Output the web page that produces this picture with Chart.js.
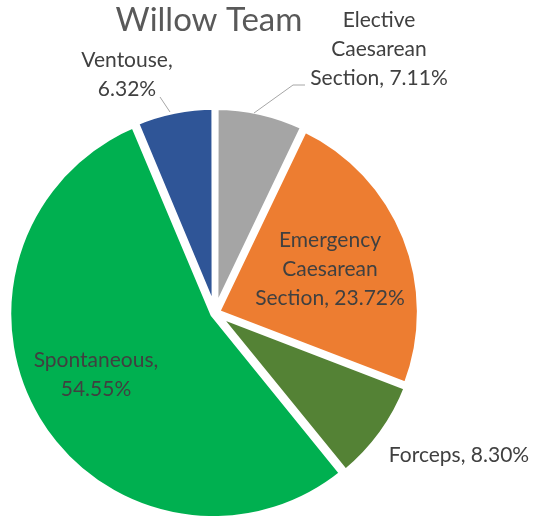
<!DOCTYPE html>
<html lang="en">
<head>
  <meta charset="UTF-8">
  <title>Willow Team</title>
  <script src="https://cdn.jsdelivr.net/npm/chart.js"></script>
  <style>
    body {
      margin: 0;
      padding: 0;
      background: #fff;
    }
    .chart-box {
      width: 535px;
      height: 516px;
    }
  </style>
</head>
<body>
  <div class="chart-box">
    <canvas id="willowChart" width="535" height="516"></canvas>
  </div>

  <script>
    // data
    const chartTitle = 'Willow Team';
    const categories = ['Elective Caesarean Section', 'Emergency Caesarean Section', 'Forceps', 'Spontaneous', 'Ventouse'];
    const percentages = [7.11, 23.72, 8.30, 54.55, 6.32];
    const sliceColors = ['#A5A5A5', '#ED7D31', '#548235', '#00B050', '#2F5597'];

    const labelFont = '21px Lato';
    const labelColor = '#404040';

    // where each data label sits (centre x, first line y) and how it wraps
    const labelPlaces = [
      { x: 379, y: 20, lines: ['Elective', 'Caesarean', 'Section, {v}'], leader: [[254, 113], [293, 85], [305, 85]] },
      { x: 330, y: 240, lines: ['Emergency', 'Caesarean', 'Section, {v}'] },
      { x: 459, y: 455, lines: ['Forceps, {v}'] },
      { x: 96, y: 360, lines: ['Spontaneous,', '{v}'] },
      { x: 127, y: 60, lines: ['Ventouse,', '{v}'], leader: [[160, 97], [170, 112]] }
    ];

    const labelsPlugin = {
      id: 'excelLabels',
      afterDraw(chart) {
        const c = chart.ctx;
        c.save();
        // title
        c.fillStyle = '#595959';
        c.font = '33px Lato';
        c.textAlign = 'center';
        c.textBaseline = 'middle';
        c.fillText(chartTitle, 209, 20);

        // leader lines
        c.strokeStyle = '#A6A6A6';
        c.lineWidth = 1;
        labelPlaces.forEach(function(p) {
          if (!p.leader) return;
          c.beginPath();
          c.moveTo(p.leader[0][0], p.leader[0][1]);
          for (let i = 1; i < p.leader.length; i++) {
            c.lineTo(p.leader[i][0], p.leader[i][1]);
          }
          c.stroke();
        });

        // data labels
        c.fillStyle = labelColor;
        c.font = labelFont;
        labelPlaces.forEach(function(p, i) {
          const v = percentages[i].toFixed(2) + '%';
          p.lines.forEach(function(line, j) {
            c.fillText(line.replace('{v}', v), p.x, p.y + j * 29);
          });
        });
        c.restore();
      }
    };

    const ctx = document.getElementById('willowChart').getContext('2d');
    new Chart(ctx, {
      type: 'pie',
      data: {
        labels: categories,
        datasets: [{
          data: percentages,
          backgroundColor: sliceColors,
          borderColor: '#ffffff',
          borderWidth: 6,
          offset: 8
        }]
      },
      options: {
        responsive: false,
        animation: false,
        radius: 203,
        layout: {
          padding: { left: 0, right: 105, top: 110, bottom: 0 }
        },
        plugins: {
          legend: { display: false },
          tooltip: { enabled: false },
          title: { display: false }
        }
      },
      plugins: [labelsPlugin]
    });
  </script>
</body>
</html>
